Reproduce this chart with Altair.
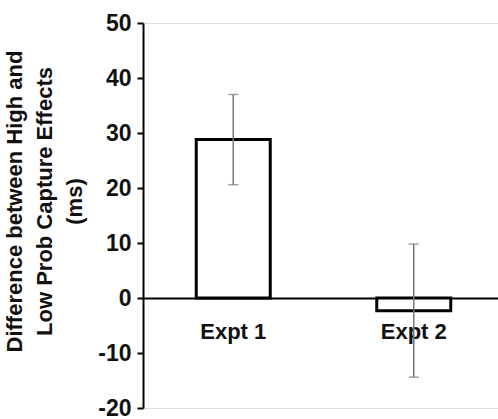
import altair as alt
import pandas as pd

categories = ["Expt 1", "Expt 2"]
means = [28.8, -2.3]
errors = [8.2, 12.1]

df = pd.DataFrame({
    "cat": categories,
    "mean": means,
    "lo": [m - e for m, e in zip(means, errors)],
    "hi": [m + e for m, e in zip(means, errors)],
})

FONT = "Liberation Sans"

x_scale = alt.Scale(range=[0, 361], paddingInner=0.59, paddingOuter=0.295)

x = alt.X("cat:N", sort=categories, scale=x_scale,
          axis=alt.Axis(title=None, orient="bottom", offset=-110, domain=True,
                        domainColor="black", domainWidth=2, ticks=False,
                        labelAngle=0, labelFont=FONT, labelFontSize=22,
                        labelFontWeight="bold", labelColor="#111", labelPadding=23))

y_scale = alt.Scale(domain=[-20, 50], nice=False, zero=False)

bars = alt.Chart(df).mark_bar(fill="white", stroke="black", strokeWidth=3).encode(
    x=x,
    y=alt.Y("mean:Q", scale=y_scale,
            axis=alt.Axis(values=[-20, -10, 0, 10, 20, 30, 40, 50],
                          labelExpr="replace(datum.label, '\u2212', '-')",
                          title=["Difference between High and", "Low Prob Capture Effects", "(ms)"],
                          titleFont=FONT, titleFontSize=22, titleFontWeight="bold",
                          titleColor="#111", titleLineHeight=30, titlePadding=11,
                          titleY=178,
                          labelFont=FONT, labelFontSize=23, labelFontWeight="bold",
                          labelColor="#111", labelPadding=6,
                          domainColor="black", domainWidth=2,
                          tickColor="black", tickWidth=2, tickSize=6, grid=False)),
    y2=alt.datum(0),
)

err = alt.Chart(df).mark_rule(color="#777", strokeWidth=1.5).encode(
    x=alt.X("cat:N", sort=categories),
    y=alt.Y("lo:Q", scale=y_scale),
    y2="hi:Q",
)
cap_lo = alt.Chart(df).mark_tick(color="#777", thickness=1.5, size=10, orient="horizontal").encode(
    x=alt.X("cat:N", sort=categories),
    y=alt.Y("lo:Q", scale=y_scale),
)
cap_hi = alt.Chart(df).mark_tick(color="#777", thickness=1.5, size=10, orient="horizontal").encode(
    x=alt.X("cat:N", sort=categories),
    y=alt.Y("hi:Q", scale=y_scale),
)

chart = alt.layer(bars, err, cap_lo, cap_hi).properties(
    width=355, height=385,
    autosize=alt.AutoSizeParams(type="none"),
    padding={"left": 143, "top": 23, "right": 0, "bottom": 11},
).configure_view(stroke=None).configure(background="white")

chart.save("out.html", embed_options={"renderer": "svg", "actions": False})
